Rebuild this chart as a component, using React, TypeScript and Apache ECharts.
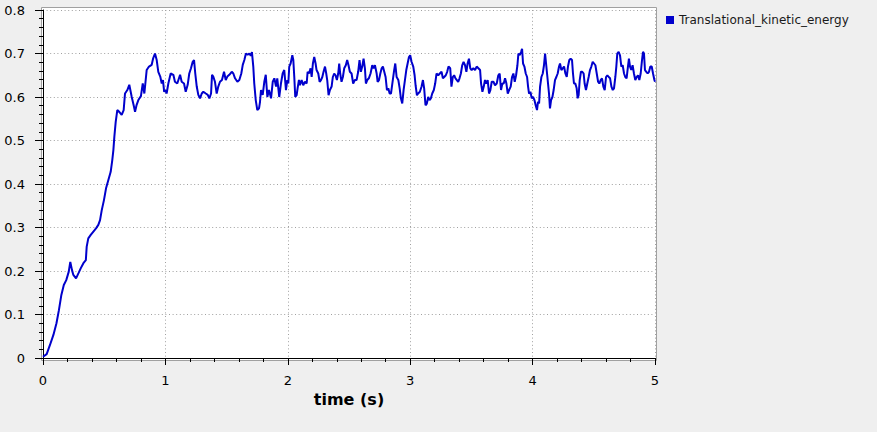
import React, { useEffect, useRef } from "react";
import * as echarts from "echarts";

const seriesName = "Translational_kinetic_energy";
const xTitle = "time (s)";
const yTicks = [0, 0.1, 0.2, 0.3, 0.4, 0.5, 0.6, 0.7, 0.8];
const xTicks = [0, 1, 2, 3, 4, 5];

const timeS = [
  0, 0.03, 0.057, 0.085, 0.11, 0.13, 0.15, 0.17, 0.19, 0.21, 0.223, 0.237, 0.248, 0.27, 0.29, 0.308, 0.33, 0.35, 0.357, 0.37, 0.39, 0.41, 0.433, 0.452,
  0.466, 0.48, 0.498, 0.515, 0.534, 0.553, 0.566, 0.575, 0.583, 0.594, 0.607, 0.623, 0.643, 0.659, 0.67, 0.689, 0.705, 0.725, 0.743, 0.752, 0.765, 0.779, 0.8, 0.815, 0.828, 0.847, 0.866, 0.888, 0.9, 0.915, 0.929, 0.942, 0.958, 0.97, 0.98, 0.99,
  1.0, 1.01, 1.024, 1.043, 1.065, 1.078, 1.097, 1.12, 1.133, 1.152, 1.166, 1.182, 1.195, 1.209, 1.223, 1.234, 1.244, 1.256, 1.269, 1.283, 1.297, 1.31, 1.33, 1.346, 1.359, 1.373, 1.381, 1.391, 1.405, 1.419, 1.432, 1.446, 1.462, 1.479, 1.493, 1.506, 1.522, 1.542, 1.555, 1.569, 1.588, 1.604, 1.62, 1.632, 1.645, 1.658, 1.672, 1.686, 1.697, 1.707, 1.718, 1.726, 1.738, 1.751, 1.765, 1.773, 1.781, 1.795, 1.808, 1.82, 1.833, 1.846, 1.863, 1.877, 1.89, 1.904, 1.914, 1.93, 1.944, 1.958, 1.971,
  1.985, 1.996, 2.004, 2.012, 2.023, 2.037, 2.045, 2.053, 2.061, 2.072, 2.08, 2.091, 2.099, 2.113, 2.126, 2.14, 2.154, 2.162, 2.173, 2.186, 2.195, 2.205, 2.216, 2.227, 2.235, 2.249, 2.26, 2.271, 2.282, 2.292, 2.304, 2.314, 2.322, 2.333, 2.344, 2.358, 2.368, 2.379, 2.39, 2.401, 2.412, 2.42, 2.428, 2.439, 2.45, 2.461, 2.474, 2.485, 2.496, 2.507, 2.521, 2.534, 2.548, 2.562, 2.575, 2.586, 2.597, 2.608, 2.619, 2.63, 2.638, 2.649, 2.662, 2.676, 2.69, 2.7,
  2.712, 2.726, 2.734, 2.745, 2.756, 2.767, 2.777, 2.788, 2.799, 2.81, 2.821, 2.832, 2.843, 2.854, 2.867, 2.878, 2.889, 2.903, 2.914, 2.924, 2.935, 2.946, 2.957, 2.968, 2.979, 2.99, 3.0, 3.011, 3.025, 3.036, 3.044, 3.055, 3.065, 3.079, 3.093, 3.104, 3.114, 3.125, 3.136, 3.147, 3.158, 3.169, 3.18, 3.193, 3.204, 3.215, 3.229, 3.242, 3.256, 3.267, 3.278, 3.291, 3.302, 3.313, 3.327, 3.337, 3.348, 3.359, 3.37, 3.381, 3.392, 3.403, 3.414, 3.425, 3.436,
  3.448, 3.459, 3.469, 3.48, 3.491, 3.502, 3.516, 3.53, 3.543, 3.557, 3.571, 3.579, 3.59, 3.601, 3.611, 3.622, 3.633, 3.644, 3.655, 3.666, 3.68, 3.693, 3.707, 3.72, 3.731, 3.742, 3.753, 3.764, 3.775, 3.786, 3.797, 3.808, 3.821, 3.832, 3.843, 3.854, 3.865, 3.876, 3.884, 3.895, 3.906, 3.914, 3.922, 3.933, 3.944, 3.955, 3.963, 3.971, 3.982, 3.993, 4.004, 4.015, 4.025, 4.036, 4.044, 4.053, 4.061, 4.072, 4.083, 4.093, 4.102, 4.11, 4.118, 4.126, 4.134, 4.142, 4.151, 4.162, 4.172, 4.183, 4.194, 4.205, 4.216,
  4.224, 4.235, 4.246, 4.257, 4.268, 4.279, 4.289, 4.3, 4.311, 4.322, 4.33, 4.338, 4.349, 4.36, 4.368, 4.376, 4.385, 4.395, 4.406, 4.417, 4.425, 4.436, 4.447, 4.458, 4.469, 4.48, 4.491, 4.502, 4.513, 4.524, 4.535, 4.545, 4.556, 4.567, 4.578, 4.589, 4.6, 4.611, 4.622, 4.633, 4.644, 4.655, 4.665, 4.676, 4.684, 4.692, 4.703, 4.714, 4.725, 4.736, 4.747, 4.757, 4.768, 4.779, 4.787, 4.796, 4.806, 4.817, 4.828, 4.839, 4.85, 4.861, 4.872, 4.883, 4.894, 4.902, 4.91, 4.918, 4.929, 4.94, 4.951, 4.962, 4.973, 4.984, 4.995, 5.0,
];

const energy = [
  0.003, 0.009, 0.03, 0.053, 0.08, 0.11, 0.145, 0.168, 0.179, 0.198, 0.221, 0.202, 0.191, 0.183, 0.195, 0.206, 0.218, 0.225, 0.256, 0.275, 0.283, 0.29, 0.298, 0.306,
  0.317, 0.34, 0.363, 0.39, 0.409, 0.428, 0.455, 0.478, 0.509, 0.543, 0.57, 0.566, 0.559, 0.57, 0.608, 0.616, 0.628, 0.6, 0.578, 0.566, 0.582, 0.593, 0.602, 0.631, 0.608, 0.662, 0.67, 0.674, 0.689, 0.7, 0.685, 0.658, 0.647, 0.631, 0.639, 0.612,
  0.616, 0.608, 0.631, 0.654, 0.651, 0.635, 0.631, 0.651, 0.635, 0.631, 0.612, 0.628, 0.654, 0.666, 0.681, 0.685, 0.654, 0.624, 0.605, 0.597, 0.608, 0.612, 0.608, 0.605, 0.597, 0.608, 0.651, 0.647, 0.635, 0.608, 0.624, 0.635, 0.639, 0.658, 0.639, 0.647, 0.651, 0.658, 0.654, 0.643, 0.635, 0.639, 0.654, 0.674, 0.685, 0.7, 0.697, 0.7, 0.695, 0.703, 0.67, 0.631, 0.593, 0.57, 0.574, 0.589, 0.616, 0.605, 0.635, 0.651, 0.6, 0.616, 0.597, 0.635, 0.643, 0.624, 0.643, 0.6, 0.631, 0.654, 0.662,
  0.616, 0.639, 0.631, 0.67, 0.677, 0.696, 0.685, 0.646, 0.6, 0.604, 0.62, 0.639, 0.627, 0.639, 0.627, 0.635, 0.631, 0.658, 0.654, 0.666, 0.646, 0.677, 0.692, 0.677, 0.662, 0.654, 0.635, 0.639, 0.646, 0.658, 0.67, 0.654, 0.639, 0.604, 0.616, 0.624, 0.646, 0.654, 0.65, 0.639, 0.654, 0.677, 0.654, 0.635, 0.646, 0.666, 0.673, 0.685, 0.673, 0.658, 0.654, 0.631, 0.639, 0.639, 0.658, 0.685, 0.658, 0.67, 0.688, 0.666, 0.631, 0.639, 0.643, 0.654, 0.673, 0.666,
  0.673, 0.654, 0.635, 0.639, 0.654, 0.666, 0.67, 0.658, 0.646, 0.616, 0.62, 0.608, 0.608, 0.631, 0.658, 0.677, 0.646, 0.639, 0.62, 0.597, 0.585, 0.616, 0.639, 0.662, 0.677, 0.692, 0.696, 0.681, 0.67, 0.65, 0.627, 0.604, 0.608, 0.612, 0.624, 0.639, 0.62, 0.581, 0.585, 0.6, 0.593, 0.597, 0.608, 0.616, 0.631, 0.654, 0.65, 0.654, 0.658, 0.643, 0.646, 0.65, 0.658, 0.67, 0.666, 0.624, 0.646, 0.65, 0.643, 0.639, 0.635, 0.643, 0.654, 0.673, 0.681,
  0.673, 0.658, 0.677, 0.688, 0.666, 0.662, 0.666, 0.662, 0.67, 0.666, 0.662, 0.631, 0.612, 0.624, 0.639, 0.631, 0.639, 0.608, 0.616, 0.635, 0.635, 0.627, 0.631, 0.65, 0.654, 0.616, 0.631, 0.631, 0.643, 0.631, 0.608, 0.616, 0.624, 0.646, 0.654, 0.635, 0.65, 0.673, 0.7, 0.696, 0.704, 0.711, 0.677, 0.67, 0.654, 0.646, 0.624, 0.608, 0.612, 0.597, 0.6, 0.593, 0.581, 0.57, 0.589, 0.585, 0.624, 0.646, 0.654, 0.673, 0.7, 0.677, 0.654, 0.631, 0.608, 0.574, 0.593, 0.6, 0.616, 0.639, 0.646, 0.654, 0.67,
  0.677, 0.662, 0.666, 0.67, 0.654, 0.646, 0.67, 0.685, 0.688, 0.685, 0.654, 0.631, 0.631, 0.62, 0.597, 0.604, 0.639, 0.658, 0.658, 0.654, 0.631, 0.616, 0.631, 0.646, 0.662, 0.67, 0.681, 0.677, 0.673, 0.654, 0.635, 0.631, 0.639, 0.643, 0.624, 0.616, 0.646, 0.65, 0.646, 0.643, 0.624, 0.616, 0.62, 0.646, 0.67, 0.7, 0.704, 0.696, 0.67, 0.673, 0.654, 0.646, 0.643, 0.67, 0.688, 0.67, 0.662, 0.673, 0.654, 0.639, 0.646, 0.65, 0.639, 0.654, 0.685, 0.704, 0.7, 0.662, 0.658, 0.654, 0.658, 0.67, 0.67, 0.654, 0.639, 0.635,
];

const FONT = "DejaVu Sans";

export default function App() {
  const ref = useRef<HTMLDivElement>(null);

  useEffect(() => {
    if (!ref.current) return;
    const chart = echarts.init(ref.current, undefined, { renderer: "svg" });
    const data = timeS.map((t, i) => [t, energy[i]]);
    chart.setOption({
      animation: false,
      backgroundColor: "#efefef",
      textStyle: { fontFamily: FONT },
      grid: { left: 43, top: 10, width: 612, height: 348, containLabel: false },
      graphic: [
        {
          type: "rect",
          z: -10,
          silent: true,
          shape: { x: 41.5, y: 7.5, width: 615, height: 353 },
          style: { fill: "#ffffff", stroke: "#a0a0a0", lineWidth: 1 },
        },
      ],
      legend: {
        show: true,
        left: 661,
        top: 9,
        icon: "rect",
        itemWidth: 8,
        itemHeight: 8,
        textStyle: { fontFamily: FONT, fontSize: 12, color: "#1a1a1a" },
        data: [{ name: seriesName, itemStyle: { color: "#0000cc" } }],
      },
      xAxis: {
        type: "value",
        min: xTicks[0],
        max: xTicks[xTicks.length - 1],
        interval: 1,
        offset: 5,
        name: xTitle,
        nameLocation: "middle",
        nameGap: 26,
        nameTextStyle: { fontFamily: FONT, fontSize: 16, fontWeight: "bold", color: "#000" },
        axisLine: { show: true, lineStyle: { color: "#000", width: 1 } },
        axisTick: { show: true, length: 7, lineStyle: { color: "#000" } },
        minorTick: { show: true, splitNumber: 5, length: 4, lineStyle: { color: "#000" } },
        axisLabel: { fontFamily: FONT, fontSize: 13, color: "#000", margin: 11 },
        splitLine: { show: true, lineStyle: { color: "#a0a0a0", type: [1, 2.6], width: 1 } },
      },
      yAxis: {
        type: "value",
        min: yTicks[0],
        max: yTicks[yTicks.length - 1],
        interval: 0.1,
        offset: 5,
        axisLine: { show: true, lineStyle: { color: "#000", width: 1 } },
        axisTick: { show: true, length: 8, lineStyle: { color: "#000" } },
        minorTick: { show: true, splitNumber: 5, length: 4, lineStyle: { color: "#000" } },
        axisLabel: { fontFamily: FONT, fontSize: 13, color: "#000", margin: 13 },
        splitLine: { show: true, lineStyle: { color: "#a0a0a0", type: [1, 2.6], width: 1 } },
      },
      series: [
        {
          name: seriesName,
          type: "line",
          data,
          showSymbol: false,
          symbol: "none",
          clip: true,
          lineStyle: { color: "#0000cc", width: 2 },
          itemStyle: { color: "#0000cc" },
        },
      ],
    });
    return () => chart.dispose();
  }, []);

  return (
    <div
      ref={ref}
      style={{ position: "absolute", left: 0, top: 0, width: 877, height: 432 }}
    />
  );
}
